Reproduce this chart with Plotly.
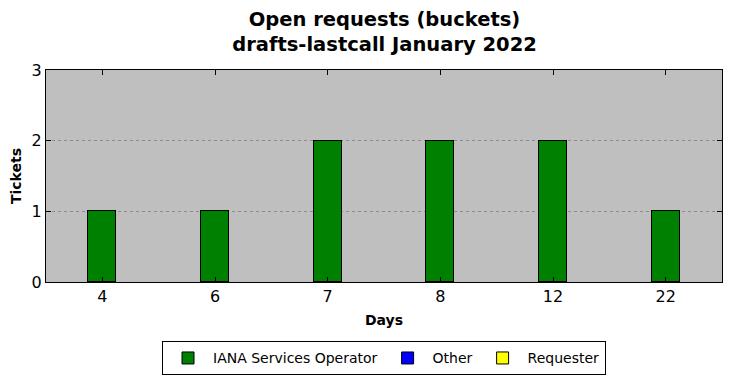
import plotly.graph_objects as go

days = ["4", "6", "7", "8", "12", "22"]
iana = [1, 1, 2, 2, 2, 1]
other = [0, 0, 0, 0, 0, 0]
requester = [0, 0, 0, 0, 0, 0]

font = "DejaVu Sans"
fig = go.Figure()
for name, vals, col in [("IANA Services Operator", iana, "green"),
                        ("Other", other, "blue"),
                        ("Requester", requester, "yellow")]:
    fig.add_trace(go.Bar(x=days, y=vals, name=name, width=0.25,
                         marker=dict(color=col, line=dict(color="black", width=1))))

fig.update_layout(
    width=731, height=378,
    barmode="stack",
    paper_bgcolor="white", plot_bgcolor="#bfbfbf",
    margin=dict(l=46, r=9, t=70, b=96, autoexpand=False),
    font=dict(family=font, color="black", size=16),
    title=dict(text="<b>Open requests (buckets)<br>drafts-lastcall January 2022</b>",
               x=0.526, xref="container", xanchor="center",
               y=1 - 26 / 378, yref="container", yanchor="middle",
               font=dict(size=19.5)),
    showlegend=True,
    legend=dict(orientation="h", x=0.5, xanchor="center", y=-0.28, yanchor="top",
                bordercolor="black", borderwidth=1, font=dict(size=14),
                traceorder="normal", itemwidth=40),
    bargap=0,
)
fig.update_xaxes(type="category", range=[-0.5, 5.5], showline=True, linecolor="black",
                 linewidth=1, mirror="ticks", ticks="inside", ticklen=5, tickcolor="black",
                 showgrid=False, automargin=False,
                 title=dict(text="<b>Days</b>", font=dict(size=14), standoff=9),
                 tickfont=dict(size=16))
fig.update_yaxes(range=[0, 3], dtick=1, showline=True, linecolor="black", linewidth=1,
                 mirror="ticks", ticks="inside", ticklen=5, tickcolor="black",
                 showgrid=True, gridcolor="#8c8c8c", griddash="dot", gridwidth=1,
                 zeroline=False, automargin=False,
                 title=dict(text="<b>Tickets</b>", font=dict(size=14), standoff=6),
                 tickfont=dict(size=16))
fig.write_html("out.html")
